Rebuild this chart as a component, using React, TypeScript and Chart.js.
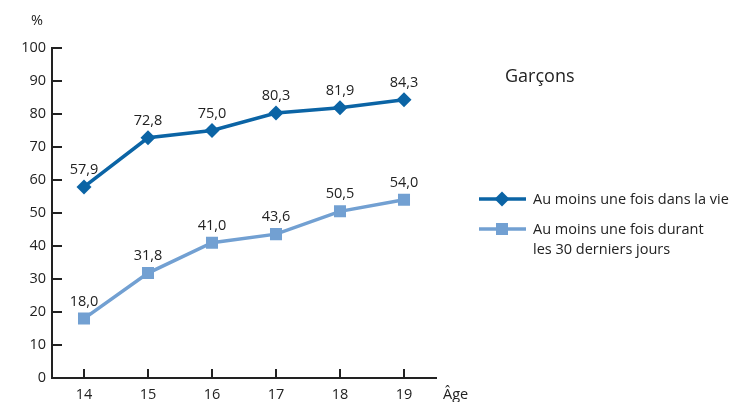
import React, { useEffect, useRef } from "react";
import { Chart, registerables } from "chart.js";

Chart.register(...registerables);

const categories = ["14", "15", "16", "17", "18", "19"];
const lifetime = [57.9, 72.8, 75.0, 80.3, 81.9, 84.3];
const last30 = [18.0, 31.8, 41.0, 43.6, 50.5, 54.0];
const yTicks = [0, 10, 20, 30, 40, 50, 60, 70, 80, 90, 100];
const seriesNames = ["Au moins une fois dans la vie", "Au moins une fois durant|les 30 derniers jours"];
const title = "Garçons";

const DARK = "#0b64a5";
const LIGHT = "#72a0d2";
const FONT = "'Open Sans', 'Noto Sans', sans-serif";
const TEXT = "#222";

const fmt = (v: number) => v.toFixed(1).replace(".", ",");

const extras = {
  id: "extras",
  afterDatasetsDraw(chart: any) {
    const ctx = chart.ctx;
    const xs = chart.scales.x;
    const ys = chart.scales.y;
    ctx.save();
    // inward ticks
    ctx.strokeStyle = TEXT;
    ctx.lineWidth = 2;
    yTicks.forEach((t) => {
      const y = Math.round(ys.getPixelForValue(t));
      ctx.beginPath();
      ctx.moveTo(ys.right, y);
      ctx.lineTo(ys.right + 10, y);
      ctx.stroke();
    });
    categories.forEach((_, i) => {
      const x = Math.round(xs.getPixelForValue(i));
      ctx.beginPath();
      ctx.moveTo(x, xs.top);
      ctx.lineTo(x, xs.top - 9);
      ctx.stroke();
    });
    // data labels
    ctx.fillStyle = TEXT;
    ctx.font = `14.5px ${FONT}`;
    ctx.textAlign = "center";
    ctx.textBaseline = "alphabetic";
    chart.data.datasets.forEach((ds: any, di: number) => {
      const meta = chart.getDatasetMeta(di);
      meta.data.forEach((pt: any, i: number) => {
        ctx.fillText(fmt(ds.data[i]), pt.x, pt.y - 13);
      });
    });
    // axis titles
    ctx.textAlign = "left";
    ctx.fillText("%", 31, 25);
    ctx.fillText("Âge", 443, 399);
    // title
    ctx.font = `18px ${FONT}`;
    ctx.fillText(title, 505, 82);
    // legend
    const items = [
      { color: DARK, style: "rectRot", y: 199, r: 7.5 },
      { color: LIGHT, style: "rect", y: 229, r: 8 },
    ];
    ctx.font = `14.5px ${FONT}`;
    items.forEach((it, i) => {
      ctx.strokeStyle = it.color;
      ctx.lineWidth = 3.5;
      ctx.beginPath();
      ctx.moveTo(479, it.y);
      ctx.lineTo(526, it.y);
      ctx.stroke();
      ctx.fillStyle = it.color;
      ctx.beginPath();
      const cx = 502;
      if (it.style === "rectRot") {
        ctx.moveTo(cx, it.y - it.r);
        ctx.lineTo(cx + it.r, it.y);
        ctx.lineTo(cx, it.y + it.r);
        ctx.lineTo(cx - it.r, it.y);
        ctx.closePath();
      } else {
        ctx.rect(cx - 6, it.y - 6, 12, 12);
      }
      ctx.fill();
      ctx.fillStyle = TEXT;
      const lines = seriesNames[i].split("|");
      lines.forEach((l, k) => ctx.fillText(l, 533, it.y + 5 + k * 20));
    });
    ctx.restore();
  },
};

export default function App() {
  const ref = useRef<HTMLCanvasElement>(null);
  useEffect(() => {
    const chart = new Chart(ref.current!, {
      type: "line",
      data: {
        labels: categories,
        datasets: [
          {
            label: seriesNames[0],
            data: lifetime,
            borderColor: DARK,
            backgroundColor: DARK,
            borderWidth: 3.5,
            pointStyle: "rectRot",
            pointRadius: 7.5,
            pointBorderWidth: 0,
            tension: 0,
          },
          {
            label: seriesNames[1],
            data: last30,
            borderColor: LIGHT,
            backgroundColor: LIGHT,
            borderWidth: 3.5,
            pointStyle: "rect",
            pointRadius: 8.5,
            pointBorderWidth: 0,
            tension: 0,
          },
        ],
      },
      options: {
        animation: false,
        responsive: false,
        devicePixelRatio: 1,
        layout: { padding: { top: 48, right: 294, left: 0, bottom: 0 } },
        plugins: { legend: { display: false }, tooltip: { enabled: false } },
        scales: {
          x: {
            type: "category",
            offset: true,
            grid: { display: false, drawTicks: false },
            border: { display: true, color: TEXT, width: 2 },
            ticks: { color: TEXT, font: { size: 14.5, family: FONT }, padding: 8 },
            afterFit: (s: any) => { s.height = 24; },
          },
          y: {
            min: 0,
            max: 100,
            grid: { display: false, drawTicks: false },
            border: { display: true, color: TEXT, width: 2 },
            ticks: {
              color: TEXT,
              stepSize: 10,
              padding: 6,
              font: { size: 14.5, family: FONT },
            },
            afterFit: (s: any) => { s.width = 52; },
          },
        },
      },
      plugins: [extras],
    } as any);
    return () => chart.destroy();
  }, []);
  return (
    <div style={{ position: "fixed", left: 0, top: 0, width: 730, height: 402, background: "#fff" }}>
      <canvas ref={ref} width={730} height={402} style={{ width: 730, height: 402 }} />
    </div>
  );
}
